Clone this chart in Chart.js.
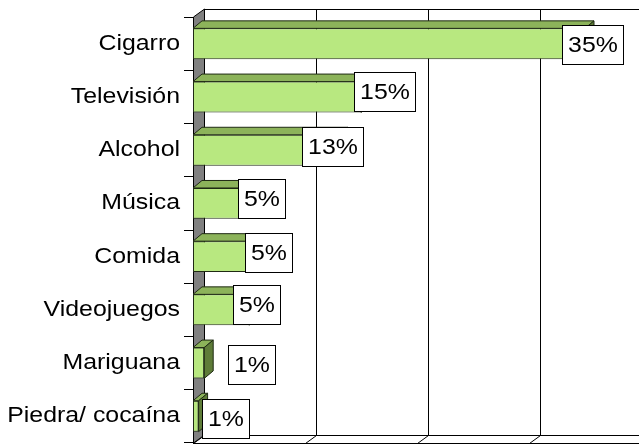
<!DOCTYPE html>
<html>
<head>
<meta charset="utf-8">
<script src="https://cdn.jsdelivr.net/npm/chart.js@4/dist/chart.umd.min.js"></script>
<style>
  html, body { margin: 0; padding: 0; background: #fff; }
  #wrap { width: 639px; height: 444px; overflow: hidden; position: relative; background: #fff; }
  #c { position: absolute; left: 0; top: 0; }
</style>
</head>
<body>
<div id="wrap"><canvas id="c" width="680" height="460"></canvas></div>
<script>
// ---- data ----
const categories = ['Cigarro', 'Televisión', 'Alcohol', 'Música', 'Comida', 'Videojuegos', 'Mariguana', 'Piedra/ cocaína'];
const values = [35, 15, 13, 5, 5, 5, 1, 0.5];
const valueLabels = ['35%', '15%', '13%', '5%', '5%', '5%', '1%', '1%'];
const gridValues = [0, 10, 20, 30, 40];

// ---- styling / placement (not data) ----
const FONT = 'Liberation Sans, Arial, Helvetica, sans-serif';
const STRETCH = 1.13; // the reference text is horizontally stretched
const style = {
  front: '#B8E880',
  top: '#8CB35A',
  side: '#5E7C38',
  edge: '#1f2a14',
  wall: '#808080',
  wallDX: 11, wallDY: -8.5,
  barDX: 9, barDY: -7.5,
  boxH: 39, boxPad: 5.5,
  labelShiftX: [7.5, 23, -6.6, 12, 19, 7, 47.5, 27],
  labelShiftY: [0.5, -5.5, -4, -4.5, -4.5, -5, 1, 2]
};

const canvas = document.getElementById('c');
const ctx0 = canvas.getContext('2d');
const origFillText = ctx0.fillText.bind(ctx0);
ctx0.fillText = function (text, x, y, maxW) {
  this.save();
  this.translate(x, y);
  this.scale(STRETCH, 1);
  origFillText(text, 0, 0);
  this.restore();
};

const crisp = v => Math.round(v) + 0.5;

const threeD = {
  id: 'threeD',
  beforeDatasetsDraw(chart) {
    const ctx = chart.ctx, a = chart.chartArea, xs = chart.scales.x;
    const L = Math.round(a.left), T = Math.round(a.top), B = Math.round(a.bottom), R = chart.width + 20;
    const dx = style.wallDX, dy = Math.round(style.wallDY);
    ctx.save();
    ctx.strokeStyle = '#000';
    ctx.lineWidth = 1;
    ctx.beginPath();
    ctx.moveTo(L + dx, T + dy + 0.5); ctx.lineTo(R, T + dy + 0.5);
    ctx.moveTo(L + dx, B + dy + 0.5); ctx.lineTo(R, B + dy + 0.5);
    ctx.moveTo(L, B + 0.5); ctx.lineTo(R, B + 0.5);
    ctx.stroke();
    gridValues.forEach(v => {
      const x = crisp(xs.getPixelForValue(v) + dx);
      ctx.beginPath();
      ctx.moveTo(x, T + dy); ctx.lineTo(x, B + dy + 0.5); ctx.lineTo(x - dx, B + 0.5);
      ctx.stroke();
    });
    ctx.beginPath();
    ctx.moveTo(L + 0.5, T); ctx.lineTo(L + dx + 0.5, T + dy); ctx.lineTo(L + dx + 0.5, B + dy); ctx.lineTo(L + 0.5, B); ctx.closePath();
    ctx.fillStyle = style.wall; ctx.fill();
    ctx.stroke();
    ctx.restore();
  },
  afterDatasetsDraw(chart) {
    const ctx = chart.ctx;
    const meta = chart.getDatasetMeta(0);
    const bdx = style.barDX, bdy = style.barDY;
    ctx.save();
    ctx.lineWidth = 1;
    ctx.strokeStyle = style.edge;
    meta.data.forEach(el => {
      const p = el.getProps(['x', 'y', 'base', 'height'], true);
      const top = p.y - p.height / 2, bot = p.y + p.height / 2;
      ctx.beginPath();
      ctx.moveTo(p.base, top); ctx.lineTo(p.x, top); ctx.lineTo(p.x + bdx, top + bdy); ctx.lineTo(p.base + bdx, top + bdy); ctx.closePath();
      ctx.fillStyle = style.top; ctx.fill(); ctx.stroke();
      ctx.beginPath();
      ctx.moveTo(p.x, top); ctx.lineTo(p.x + bdx, top + bdy); ctx.lineTo(p.x + bdx, bot + bdy); ctx.lineTo(p.x, bot); ctx.closePath();
      ctx.fillStyle = style.side; ctx.fill(); ctx.stroke();
    });
    ctx.font = '22px ' + FONT;
    ctx.textAlign = 'center';
    ctx.textBaseline = 'middle';
    meta.data.forEach((el, i) => {
      const p = el.getProps(['x', 'y'], true);
      const txt = valueLabels[i];
      const w = Math.round(ctx.measureText(txt).width * STRETCH + 2 * style.boxPad);
      const h = style.boxH;
      const cx = p.x + style.labelShiftX[i];
      const cy = p.y + style.labelShiftY[i];
      const x0 = Math.round(cx - w / 2) + 0.5, y0 = Math.round(cy - h / 2) + 0.5;
      ctx.fillStyle = '#fff';
      ctx.fillRect(x0, y0, w, h);
      ctx.strokeStyle = '#000';
      ctx.strokeRect(x0, y0, w, h);
      ctx.fillStyle = '#000';
      ctx.fillText(txt, x0 + w / 2, y0 + h / 2 + 1);
    });
    ctx.restore();
  }
};

new Chart(canvas, {
  type: 'bar',
  data: {
    labels: categories,
    datasets: [{
      data: values,
      backgroundColor: style.front,
      borderColor: style.edge,
      borderWidth: 1,
      borderSkipped: false,
      barPercentage: 0.58,
      categoryPercentage: 1
    }]
  },
  options: {
    indexAxis: 'y',
    responsive: false,
    animation: false,
    layout: { padding: { top: 17, bottom: 14, left: 0, right: 39 } },
    plugins: { legend: { display: false }, tooltip: { enabled: false }, title: { display: false } },
    scales: {
      x: { type: 'linear', min: 0, max: 40, display: false },
      y: {
        grid: { offset: true, drawOnChartArea: false, drawTicks: true, tickLength: 9, color: '#000', lineWidth: 1 },
        border: { display: false },
        ticks: { color: '#000', font: { family: FONT, size: 22 }, padding: 4 },
        afterFit(scale) { scale.width = 193; }
      }
    }
  },
  plugins: [threeD]
});
</script>
</body>
</html>
